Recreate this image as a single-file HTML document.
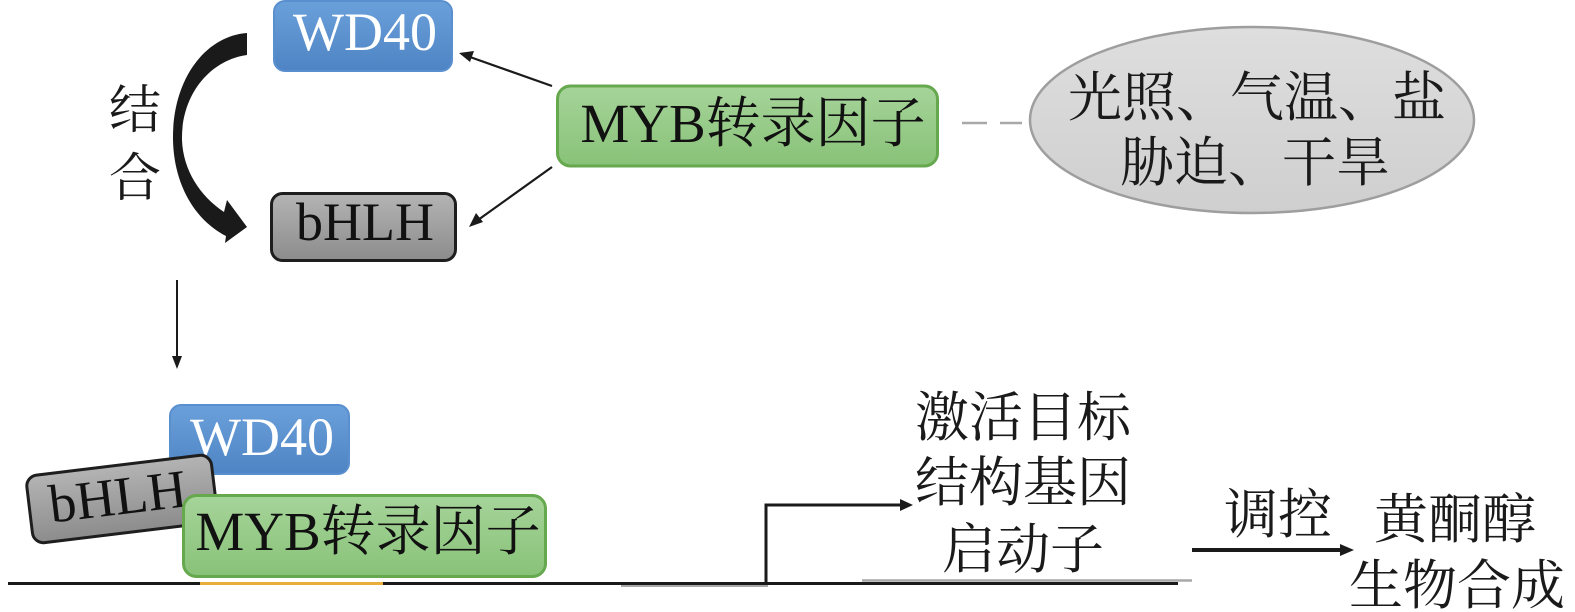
<!DOCTYPE html>
<html>
<head>
<meta charset="utf-8">
<style>
  html, body { margin:0; padding:0; background:#ffffff; }
  body { width:1575px; height:612px; overflow:hidden; }
  svg { display:block; }
  text { font-family: "Liberation Serif", "Noto Serif CJK SC", serif; }
</style>
</head>
<body>
<svg width="1575" height="612" viewBox="0 0 1575 612" xmlns="http://www.w3.org/2000/svg">
  <defs>
    <linearGradient id="gBlue" x1="0" y1="0" x2="0" y2="1">
      <stop offset="0" stop-color="#6aa0da"/>
      <stop offset="1" stop-color="#4f84c4"/>
    </linearGradient>
    <linearGradient id="gGray" x1="0" y1="0" x2="0" y2="1">
      <stop offset="0" stop-color="#b4b4b4"/>
      <stop offset="1" stop-color="#8c8c8c"/>
    </linearGradient>
    <linearGradient id="gGreen" x1="0" y1="0" x2="0" y2="1">
      <stop offset="0" stop-color="#a6d49a"/>
      <stop offset="1" stop-color="#88c278"/>
    </linearGradient>
    <linearGradient id="gEll" x1="0" y1="0" x2="0" y2="1">
      <stop offset="0" stop-color="#dedede"/>
      <stop offset="1" stop-color="#cfcfcf"/>
    </linearGradient>
  </defs>

  <!-- ===== TOP SECTION ===== -->
  <rect x="274" y="1" width="178" height="70" rx="11" fill="url(#gBlue)" stroke="#5a8fcf" stroke-width="2"/>
  <text x="365" y="50" font-size="54" fill="#ffffff" text-anchor="middle">WD40</text>

  <rect x="271.5" y="193.5" width="184" height="67" rx="11" fill="url(#gGray)" stroke="#1e1e1e" stroke-width="3"/>
  <text x="365" y="240" font-size="54" fill="#111" text-anchor="middle">bHLH</text>

  <path d="M247,33 C205,36 172,80 173,140 C174,185 195,220 226,236 L225,243 L247,227 L227,200 L224,212 C200,196 183,170 182,140 C181,95 210,60 247,55 Z" fill="#1a1a1a"/>

  <text x="135" y="128" font-size="52" fill="#1a1a1a" text-anchor="middle">结</text>
  <text x="135" y="196" font-size="52" fill="#1a1a1a" text-anchor="middle">合</text>

  <rect x="557.5" y="86" width="380" height="80" rx="13" fill="url(#gGreen)" stroke="#66a84e" stroke-width="3"/>
  <text x="753" y="142" font-size="55" fill="#111" text-anchor="middle">MYB转录因子</text>

  <line x1="552" y1="86" x2="470" y2="57" stroke="#1a1a1a" stroke-width="2.2"/>
  <polygon points="459,53 474,51 470,62" fill="#1a1a1a"/>
  <line x1="552" y1="167" x2="478" y2="220" stroke="#1a1a1a" stroke-width="2.2"/>
  <polygon points="469,227 476,213 483,222" fill="#1a1a1a"/>

  <line x1="962" y1="123" x2="987" y2="123" stroke="#a8a8a8" stroke-width="2.5"/>
  <line x1="1000" y1="123" x2="1022" y2="123" stroke="#a8a8a8" stroke-width="2.5"/>

  <ellipse cx="1252" cy="120" rx="222" ry="93" fill="url(#gEll)" stroke="#9e9e9e" stroke-width="2.5"/>
  <text x="1257" y="116" font-size="54" fill="#1a1a1a" text-anchor="middle">光照、气温、盐</text>
  <text x="1255" y="181" font-size="54" fill="#1a1a1a" text-anchor="middle">胁迫、干旱</text>

  <line x1="177" y1="280" x2="177" y2="358" stroke="#1a1a1a" stroke-width="2"/>
  <polygon points="172,356 182,356 177,369" fill="#1a1a1a"/>

  <!-- ===== BOTTOM SECTION ===== -->
  <line x1="621" y1="586" x2="768" y2="586" stroke="#a8a8a8" stroke-width="2"/>
  <line x1="862" y1="580.5" x2="1192" y2="580.5" stroke="#a8a8a8" stroke-width="2.5"/>
  <line x1="8" y1="583.5" x2="1178" y2="583.5" stroke="#1a1a1a" stroke-width="3"/>
  <line x1="200" y1="583.5" x2="383" y2="583.5" stroke="#e8ad3a" stroke-width="3"/>

  <polyline points="766,584 766,505 902,505" fill="none" stroke="#1a1a1a" stroke-width="3"/>
  <polygon points="900,499 913,505 900,511" fill="#1a1a1a"/>

  <rect x="170" y="405" width="179" height="69" rx="11" fill="url(#gBlue)" stroke="#5a8fcf" stroke-width="2"/>
  <text x="262" y="455" font-size="54" fill="#ffffff" text-anchor="middle">WD40</text>

  <g transform="translate(122,499) rotate(-6.9)">
    <rect x="-93" y="-34" width="186" height="68" rx="11" fill="url(#gGray)" stroke="#1e1e1e" stroke-width="3"/>
    <text x="-4" y="15" font-size="54" fill="#111" text-anchor="middle">bHLH</text>
  </g>

  <rect x="183.5" y="495.5" width="362" height="81" rx="13" fill="url(#gGreen)" stroke="#66a84e" stroke-width="3"/>
  <text x="368" y="550" font-size="55" fill="#111" text-anchor="middle">MYB转录因子</text>

  <text x="1023" y="436" font-size="54" fill="#1a1a1a" text-anchor="middle">激活目标</text>
  <text x="1023" y="501" font-size="54" fill="#1a1a1a" text-anchor="middle">结构基因</text>
  <text x="1023" y="568" font-size="54" fill="#1a1a1a" text-anchor="middle">启动子</text>

  <line x1="1192" y1="550" x2="1344" y2="550" stroke="#1a1a1a" stroke-width="4"/>
  <polygon points="1340,544 1354,550 1340,556" fill="#1a1a1a"/>
  <text x="1278" y="533" font-size="54" fill="#1a1a1a" text-anchor="middle">调控</text>

  <text x="1455" y="538" font-size="54" fill="#1a1a1a" text-anchor="middle">黄酮醇</text>
  <text x="1457" y="604" font-size="54" fill="#1a1a1a" text-anchor="middle">生物合成</text>
</svg>
</body>
</html>
